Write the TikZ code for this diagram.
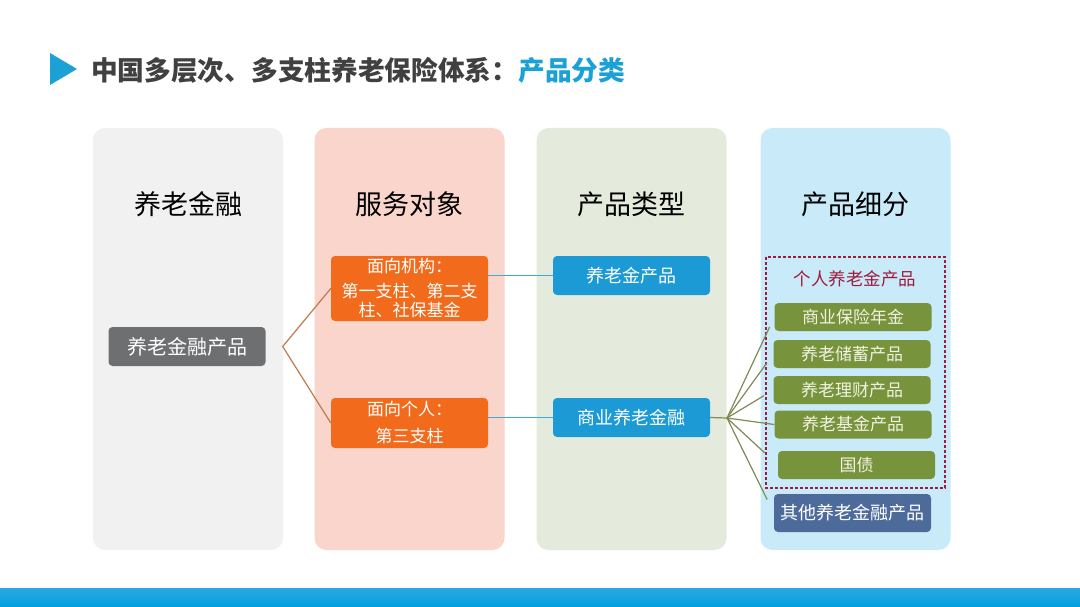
\documentclass[tikz,border=0pt]{standalone}
\usepackage{fontspec}
\setmainfont{Noto Sans CJK SC}
\usetikzlibrary{positioning,calc}
\definecolor{colgray}{RGB}{241,241,241}
\definecolor{colpink}{RGB}{250,213,204}
\definecolor{colgreen}{RGB}{229,235,220}
\definecolor{colblue}{RGB}{201,234,249}
\definecolor{boxgray}{RGB}{110,111,113}
\definecolor{boxorange}{RGB}{242,106,27}
\definecolor{boxblue}{RGB}{28,154,214}
\definecolor{boxgreen}{RGB}{119,147,60}
\definecolor{boxnavy}{RGB}{77,107,154}
\definecolor{dashred}{RGB}{158,27,60}
\definecolor{linebrown}{RGB}{192,122,78}
\definecolor{lineblue}{RGB}{60,170,220}
\definecolor{lineolive}{RGB}{127,139,85}
\definecolor{titlegray}{RGB}{64,64,64}
\definecolor{titleblue}{RGB}{27,161,214}

\newcommand{\fs}[1]{\fontsize{#1}{#1}\selectfont}

\begin{document}
\begin{tikzpicture}[x=1pt,y=-1pt,
    column/.style={rounded corners=12pt,minimum width=190pt,minimum height=422pt,inner sep=0pt},
    header/.style={font=\fs{27},text=black},
    box/.style={rounded corners=4pt,minimum width=157pt,text=white,inner sep=0pt,align=center},
    subbox/.style={box,fill=boxgreen,minimum height=28pt,font=\fs{17},text={rgb,255:red,242;green,242;blue,225}},
    fanline/.style={lineolive,line width=1.2pt}]
    \useasboundingbox (0,0) rectangle (1080,607);
    \fill[white] (0,0) rectangle (1080,607);
    % Titel
    \fill[titleblue] (50,53) -- (77,69) -- (50,85) -- cycle;
    \node[anchor=west,inner sep=0pt,font=\fs{26.7}\bfseries] (title) at (91,70)
        {\textcolor{titlegray}{中国多层次、多支柱养老保险体系：}\textcolor{titleblue}{产品分类}};
    % Spalten
    \node[column,fill=colgray] (c1) at (188,339) {};
    \node[column,fill=colpink] (c2) at (409.5,339) {};
    \node[column,fill=colgreen] (c3) at (631.5,339) {};
    \node[column,fill=colblue] (c4) at (855.5,339) {};
    \node[header] (h1) at (188,204) {养老金融};
    \node[header] (h2) at (409.5,204) {服务对象};
    \node[header] (h3) at (631.5,204) {产品类型};
    \node[header] (h4) at (855.5,204) {产品细分};
    % Knoten
    \node[box,fill=boxgray,minimum height=39pt,font=\fs{20}] (root) at (187,346.5) {养老金融产品};
    \node[box,fill=boxorange,minimum height=65pt,font=\fontsize{17}{19}\selectfont] (inst) at (409.5,288.5)
        {面向机构：\\[6pt]第一支柱、第二支\\柱、社保基金};
    \node[box,fill=boxorange,minimum height=50pt,font=\fontsize{17}{19}\selectfont] (pers) at (409.5,423)
        {面向个人：\\[8pt]第三支柱};
    \node[box,fill=boxblue,minimum height=39pt,font=\fs{18}] (pension) at (631.5,275.5) {养老金产品};
    \node[box,fill=boxblue,minimum height=39pt,font=\fs{18}] (commerce) at (631.5,417.5) {商业养老金融};
    \coordinate[right=17pt of root] (split);
    \coordinate (fan) at (727,418);
    % Produkte
    \draw[dashred,line width=1.3pt,dash pattern=on 3pt off 2pt] (766,257) rectangle (945,488);
    \node[font=\fs{17.5},text=dashred] (indiv) at (855,279) {个人养老金产品};
    \node[subbox] (p1) at (853,317) {商业保险年金};
    \node[subbox] (p2) at (852,354) {养老储蓄产品};
    \node[subbox] (p3) at (852,390) {养老理财产品};
    \node[subbox] (p4) at (853,424.5) {养老基金产品};
    \node[subbox] (p5) at (856.5,465) {国债};
    \node[box,fill=boxnavy,minimum height=38pt,font=\fs{18}] (other) at (852.5,513) {其他养老金融产品};
    % Verbindungen
    \draw[linebrown,line width=1.2pt] (inst.west) -- (split) -- (pers.west);
    \draw[lineblue,line width=1.2pt] (inst.east|-pension) -- (pension.west);
    \draw[lineblue,line width=1.2pt] (pers.east|-commerce) -- (commerce.west);
    \draw[fanline] (commerce.east) -- (fan);
    \foreach \n/\s in {p1/11,p2/11,p3/11,p5/18,other/15}{
        \draw[fanline,shorten >=\s pt] (fan) -- (\n.west);
    }
    \draw[fanline] (fan) -- (p4.west);
    % Fusszeile
    \shade[top color={rgb,255:red,42;green,170;blue,226},bottom color={rgb,255:red,0;green,158;blue,221}]
        (0,588) rectangle (1080,607);
\end{tikzpicture}
\end{document}
